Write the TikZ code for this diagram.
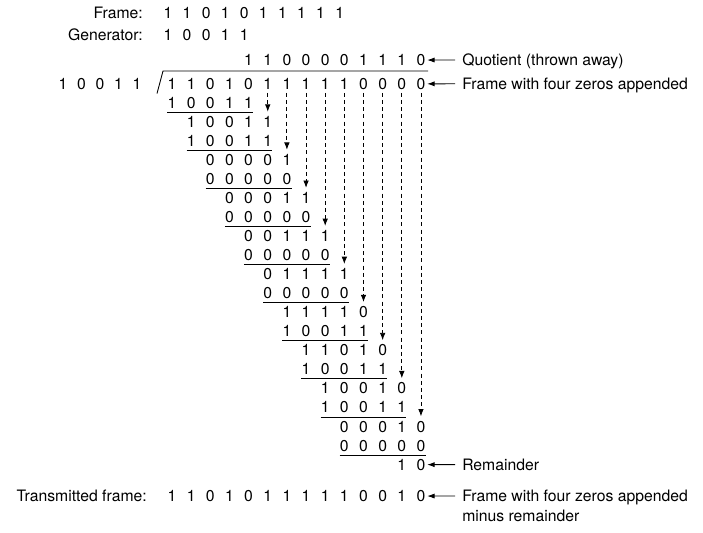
\documentclass[tikz,border=0pt]{standalone}
\usepackage{fontspec}
\setmainfont{TeX Gyre Heros}
\usetikzlibrary{arrows.meta}
\newcommand\digitrow[5]{% #1 name, #2 x origin, #3 start col, #4 y centre, #5 digits
  \edef\dlist{#5}%
  \foreach \d [count=\i from 0] in \dlist {
    \pgfmathtruncatemacro\cc{#3+\i}
    \node[dig] (#1-\cc) at ({#2+19.15*\cc},{#4+5.5}) {\d};
  }}
\newcommand\ulinerow[3]{\draw[uline] ([yshift=-3pt]#1-#2.base west) -- ([yshift=-3pt]#1-#3.base east);}
\begin{document}
\begin{tikzpicture}[x=0.75pt,y=-0.75pt,
  txt/.style={font=\fontsize{11.8}{15}\selectfont, inner sep=0pt},
  dig/.style={txt, anchor=base},
  uline/.style={line width=0.65pt},
  darrow/.style={line width=0.65pt, dash pattern=on 3pt off 2.4pt,
    -{Latex[length=5.5pt,width=4.2pt]}, shorten <=2.6pt, shorten >=3.2pt},
  larrow/.style={line width=0.65pt, -{Latex[length=5.5pt,width=3.8pt]}},
]
\useasboundingbox (0,0) rectangle (703,532);

% header
\node[txt, anchor=base east] (lframe) at (143,18.5) {Frame:};
\node[txt, anchor=base east] (lgen) at (143,40.5) {Generator:};
\foreach \d [count=\i from 0] in {1,1,0,1,0,1,1,1,1,1}
  \node[dig] (f-\i) at ({168+19.07*\i},18.5) {\d};
\foreach \d [count=\i from 0] in {1,0,0,1,1}
  \node[dig] (gen-\i) at ({168+19.07*\i},40.5) {\d};

% divisor
\foreach \d [count=\i from 0] in {1,0,0,1,1}
  \node[dig] (div-\i) at ({63+18.5*\i},89.2) {\d};

% quotient and dividend
\digitrow{q}{172}{4}{60}{1,1,0,0,0,0,1,1,1,0}
\digitrow{r0}{172}{0}{83.8}{1,1,0,1,0,1,1,1,1,1,0,0,0,0}
\draw[line width=0.65pt] (157,93.5) -- (163,71) -- (428,71);

% long division rows
\foreach \r/\s/\ds in {
  1/0/{1,0,0,1,1}, 2/1/{1,0,0,1,1}, 3/1/{1,0,0,1,1}, 4/2/{0,0,0,0,1},
  5/2/{0,0,0,0,0}, 6/3/{0,0,0,1,1}, 7/3/{0,0,0,0,0}, 8/4/{0,0,1,1,1},
  9/4/{0,0,0,0,0}, 10/5/{0,1,1,1,1}, 11/5/{0,0,0,0,0}, 12/6/{1,1,1,1,0},
  13/6/{1,0,0,1,1}, 14/7/{1,1,0,1,0}, 15/7/{1,0,0,1,1}, 16/8/{1,0,0,1,0},
  17/8/{1,0,0,1,1}, 18/9/{0,0,0,1,0}, 19/9/{0,0,0,0,0}}
{
  \pgfmathsetmacro\yy{83.8+19.04*\r}
  \digitrow{r\r}{172}{\s}{\yy}{\ds}
}
\digitrow{r20}{172}{12}{464.6}{1,0}

% underlines
\foreach \k in {0,...,9} {
  \pgfmathtruncatemacro\rr{2*\k+1}
  \pgfmathtruncatemacro\ee{\k+4}
  \ulinerow{r\rr}{\k}{\ee}
}

% dashed bring-down arrows
\foreach \k in {0,...,8} {
  \pgfmathtruncatemacro\cc{\k+5}
  \pgfmathtruncatemacro\rr{2*\k+2}
  \draw[darrow] (r0-\cc.base) -- (r\rr-\cc.north);
}

% transmitted frame
\node[txt, anchor=base east] (ltrans) at (147,501.5) {Transmitted frame:};
\digitrow{t}{172}{0}{496}{1,1,0,1,0,1,1,1,1,1,0,0,1,0}

% right labels
\node[txt, anchor=base west] (lq) at (462,65.5) {Quotient (thrown away)};
\node[txt, anchor=base west] (ld) at (462,89.3) {Frame with four zeros appended};
\node[txt, anchor=base west] (lr) at (462,470.1) {Remainder};
\node[txt, anchor=base west] (lt1) at (462,501.5) {Frame with four zeros appended};
\node[txt, anchor=base west] (lt2) at (462,521.5) {minus remainder};

\coordinate (aq) at (455,60);
\coordinate (ad) at (455,83.8);
\coordinate (ar) at (455,464.6);
\coordinate (at) at (455,496);
\draw[larrow] (aq) -- ([xshift=1.2pt]q-13.east);
\draw[larrow] (ad) -- ([xshift=1.2pt]r0-13.east);
\draw[larrow] (ar) -- ([xshift=1.2pt]r20-13.east);
\draw[larrow] (at) -- ([xshift=1.2pt]t-13.east);
\end{tikzpicture}
\end{document}
